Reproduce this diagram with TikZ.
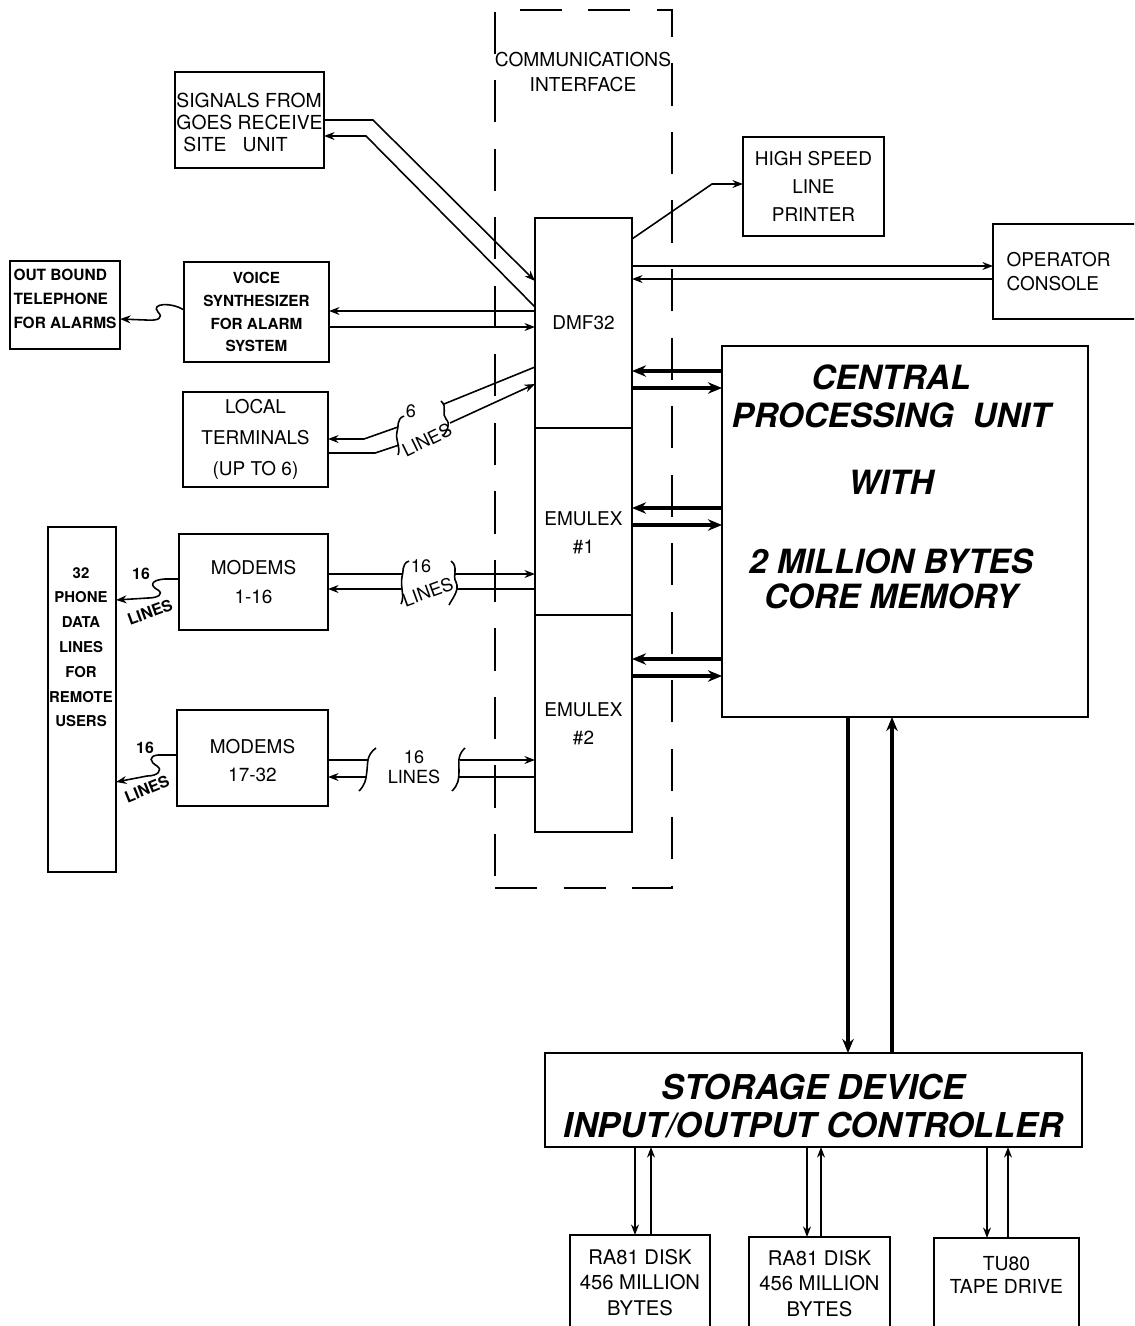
\documentclass[tikz,border=0pt]{standalone}
\usepackage{fontspec}
\setmainfont{TeX Gyre Heros}
\usepackage{tikz}
\usetikzlibrary{arrows.meta,positioning}

\begin{document}
\begin{tikzpicture}[
    x=0.02cm, y=-0.02cm,
    box/.style={rectangle, draw, line width=1.4pt, inner sep=0pt, outer sep=0pt, align=center, font=\fontsize{10.8}{16}\selectfont},
    tinybox/.style={box, font=\fontsize{8.7}{13}\selectfont\bfseries},
    frame/.style={rectangle, draw, line width=1.4pt, dash pattern=on 24pt off 15pt, inner sep=0pt, outer sep=0pt},
    wire/.style={line width=0.9pt, -{Stealth[length=6pt,width=4.5pt]}},
    plainwire/.style={line width=0.9pt},
    bus/.style={line width=2.2pt, -{Stealth[length=8pt,width=6.5pt]}},
    bracket/.style={line width=0.9pt},
    tag/.style={inner sep=0pt, font=\fontsize{10.3}{12}\selectfont},
    boldtag/.style={inner sep=0pt, font=\fontsize{9}{10}\selectfont\bfseries}
]
  \useasboundingbox (0,0) rectangle (1134,1326);
  \clip (0,0) rectangle (1134,1326);

  % communications interface
  \node[frame, minimum width=3.54cm, minimum height=17.56cm] (comm) at (583.5,449) {};
  \node[anchor=north, inner sep=0pt, align=center, font=\fontsize{10.9}{14}\selectfont] (commtext) at (583,52) {COMMUNICATIONS\\INTERFACE};

  \node[box, minimum width=1.94cm, minimum height=4.2cm] (dmf) at (583.5,323) {DMF32};
  \node[box, minimum width=1.94cm, minimum height=3.74cm, below=0pt of dmf] (emu1) {\rule{0pt}{21pt}EMULEX\\\#1};
  \node[box, minimum width=1.94cm, minimum height=4.34cm, below=0pt of emu1] (emu2) {EMULEX\\\#2};

  % left side units
  \node[box, align=left, font=\fontsize{11}{12.6}\selectfont, minimum width=2.98cm, minimum height=1.92cm] (goes) at (249.5,120) {\rule{0pt}{11pt}SIGNALS FROM\\GOES RECEIVE\\\hspace*{4pt}SITE\ \ \ UNIT};
  \node[tinybox, minimum width=2.9cm, minimum height=2cm] (voice) at (256.5,312) {VOICE\\SYNTHESIZER\\FOR ALARM\\SYSTEM};
  \node[tinybox, align=left, font=\fontsize{8.8}{13.6}\selectfont\bfseries, minimum width=2.2cm, minimum height=1.76cm] (phoneout) at (65,305) {OUT BOUND\\TELEPHONE\\FOR ALARMS\rule[-7pt]{0pt}{7pt}};
  \node[box, font=\fontsize{10.8}{17.6}\selectfont, minimum width=2.9cm, minimum height=1.9cm] (local) at (255.5,439.5) {LOCAL\\TERMINALS\\(UP TO 6)};
  \node[box, minimum width=1.36cm, minimum height=6.9cm] (remote) at (82,699.5) {};
  \node[anchor=north, inner sep=0pt, align=center, font=\fontsize{8.5}{14.1}\selectfont\bfseries] (remotetext) at (81,567) {32\\PHONE\\DATA\\LINES\\FOR\\REMOTE\\USERS};
  \node[box, font=\fontsize{10.8}{16.4}\selectfont, minimum width=2.98cm, minimum height=1.92cm] (modem1) at (253.5,582) {MODEMS\\1-16};
  \node[box, font=\fontsize{10.8}{16.4}\selectfont, minimum width=3.02cm, minimum height=1.92cm] (modem2) at (252.5,758) {\rule{0pt}{11pt}MODEMS\\17-32};

  % right side units
  \node[box, font=\fontsize{10.8}{15.9}\selectfont, minimum width=2.82cm, minimum height=1.98cm] (printer) at (813.5,186.5) {HIGH SPEED\\LINE\\PRINTER};
  \node[box, align=left, text width=2.5cm, font=\fontsize{10.8}{14}\selectfont, minimum width=3.04cm, minimum height=1.9cm] (console) at (1069,271.5) {OPERATOR\\CONSOLE};
  \node[box, line width=1.6pt, minimum width=7.32cm, minimum height=7.42cm] (cpu) at (905,531.5) {};
  \node[anchor=north, inner sep=0pt, align=center, font=\fontsize{19}{22}\selectfont\bfseries\itshape] (cputext) at (891,364) {CENTRAL\\PROCESSING\ \ UNIT\\[16pt]WITH\\[23pt]2 MILLION BYTES\\[-2pt]CORE MEMORY};
  \node[box, line width=1.6pt, font=\fontsize{19.5}{21.5}\selectfont\bfseries\itshape, minimum width=10.74cm, minimum height=1.88cm] (store) at (813.5,1100) {\rule{0pt}{21pt}STORAGE DEVICE\\INPUT/OUTPUT CONTROLLER};
  \node[box, font=\fontsize{11.5}{14.5}\selectfont, minimum width=2.8cm, minimum height=2.1cm] (disk1) at (640,1287.5) {RA81 DISK\\456 MILLION\\BYTES\rule[-6pt]{0pt}{6pt}};
  \node[box, font=\fontsize{11.5}{14.5}\selectfont, minimum width=2.82cm, minimum height=2.06cm] (disk2) at (819.5,1288.5) {RA81 DISK\\456 MILLION\\BYTES\rule[-6pt]{0pt}{6pt}};
  \node[box, font=\fontsize{11}{13}\selectfont, minimum width=2.9cm, minimum height=2.04cm] (tape) at (1006.5,1289) {TU80\\TAPE DRIVE\rule[-16pt]{0pt}{16pt}};

  % GOES and voice lines
  \draw[wire] (goes.east |- 0,120) -- (373,120) -- (dmf.west |- 0,281);
  \draw[wire] (dmf.west |- 0,307) -- (366,136) -- (goes.east |- 0,136);
  \draw[wire] (dmf.west |- 0,311) -- (voice.east |- 0,311);
  \draw[wire] (voice.east |- 0,327) -- (dmf.west |- 0,327);
  \draw[wire] (voice.west |- 0,310) .. controls (172,302) and (150,303) .. (158,312) .. controls (164,318) and (158,321) .. (146,320) -- (phoneout.east |- 0,319);

  % local terminals, 6 lines
  \coordinate (lt1) at (444,404);
  \coordinate (lt2) at (398,427);
  \coordinate (lt3) at (399,445);
  \coordinate (lt4) at (450,423);
  \draw[plainwire] (dmf.west |- 0,367) -- (lt1);
  \draw[wire] (lt2) -- (364,439) -- (local.east |- 0,439);
  \draw[plainwire] (local.east |- 0,453) -- (375,453) -- (lt3);
  \draw[wire] (lt4) -- (dmf.west |- 0,384);
  \draw[bracket] (404,416) .. controls (396,419) and (399,427) .. (397,432) .. controls (395,440) and (401,447) .. (398,455);
  \draw[bracket] (441,401) .. controls (448,407) and (441,414) .. (446,419) .. controls (451,424) and (447,431) .. (443,436);
  \node[tag] (six) at (411,411) {6};
  \node[tag, rotate=26] (sixlines) at (427,440) {LINES};

  % modems 1-16, 16 lines
  \coordinate (ma1) at (403,574);
  \coordinate (mb1) at (455,574);
  \coordinate (mb2) at (457,589);
  \coordinate (ma2) at (401,589);
  \draw[plainwire] (modem1.east |- 0,574) -- (ma1);
  \draw[wire] (mb1) -- (emu1.west |- 0,574);
  \draw[plainwire] (emu1.west |- 0,589) -- (mb2);
  \draw[wire] (ma2) -- (modem1.east |- 0,589);
  \draw[bracket] (409,561) .. controls (401,564) and (404,572) .. (402,577) .. controls (400,586) and (405,597) .. (401,604);
  \draw[bracket] (451,561) .. controls (459,567) and (452,576) .. (456,582) .. controls (460,590) and (452,599) .. (449,605);
  \node[tag] (sixteena) at (421,566) {16};
  \node[tag, rotate=20] (linesa) at (428,592) {LINES};

  % modems 17-32, 16 lines
  \coordinate (na1) at (368,760);
  \coordinate (nb1) at (460,760);
  \coordinate (nb2) at (459,777);
  \coordinate (na2) at (366,777);
  \draw[plainwire] (modem2.east |- 0,760) -- (na1);
  \draw[wire] (nb1) -- (emu2.west |- 0,760);
  \draw[plainwire] (emu2.west |- 0,777) -- (nb2);
  \draw[wire] (na2) -- (modem2.east |- 0,777);
  \draw[bracket] (376,748) .. controls (366,755) and (368,764) .. (367,770) .. controls (366,780) and (365,785) .. (359,791);
  \draw[bracket] (465,748) .. controls (457,755) and (459,764) .. (459,770) .. controls (459,780) and (458,785) .. (452,791);
  \node[tag] (sixteenb) at (414,757) {16};
  \node[tag] (linesb) at (414,777) {LINES};

  % modems to remote users
  \draw[wire] (modem1.west |- 0,579) -- (165,579) .. controls (150,580) and (150,586) .. (158,590) .. controls (164,594) and (158,598) .. (148,598) -- (remote.east |- 0,600);
  \node[boldtag] (sixteenc) at (141,574) {16};
  \node[boldtag, rotate=20] (linesc) at (150,612) {LINES};
  \draw[wire] (modem2.west |- 0,755) -- (158,755) .. controls (148,756) and (150,762) .. (157,766) .. controls (163,770) and (158,776) .. (147,776) -- (remote.east |- 0,782);
  \node[boldtag] (sixteend) at (145,748) {16};
  \node[boldtag, rotate=22] (linesd) at (147,789) {LINES};

  % printer and console
  \draw[wire] (dmf.east |- 0,239) -- (712,184) -- (printer.west |- 0,184);
  \draw[wire] (dmf.east |- 0,266) -- (console.west |- 0,266);
  \draw[wire] (console.west |- 0,279) -- (dmf.east |- 0,279);

  % cpu buses
  \draw[bus] (cpu.west |- 0,371) -- (dmf.east |- 0,371);
  \draw[bus] (dmf.east |- 0,388) -- (cpu.west |- 0,388);
  \draw[bus] (cpu.west |- 0,508) -- (emu1.east |- 0,508);
  \draw[bus] (emu1.east |- 0,525) -- (cpu.west |- 0,525);
  \draw[bus] (cpu.west |- 0,659) -- (emu2.east |- 0,659);
  \draw[bus] (emu2.east |- 0,676) -- (cpu.west |- 0,676);
  \draw[bus] (cpu.south -| 848,0) -- (store.north -| 848,0);
  \draw[bus] (store.north -| 892,0) -- (cpu.south -| 892,0);

  % storage devices
  \draw[wire] (store.south -| 635,0) -- (disk1.north -| 635,0);
  \draw[wire] (disk1.north -| 651,0) -- (store.south -| 651,0);
  \draw[wire] (store.south -| 807,0) -- (disk2.north -| 807,0);
  \draw[wire] (disk2.north -| 821,0) -- (store.south -| 821,0);
  \draw[wire] (store.south -| 987,0) -- (tape.north -| 987,0);
  \draw[wire] (tape.north -| 1008,0) -- (store.south -| 1008,0);
\end{tikzpicture}
\end{document}
